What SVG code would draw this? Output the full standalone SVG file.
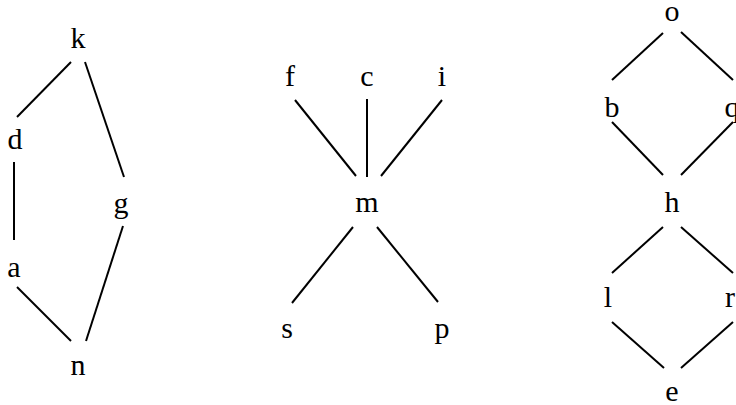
<svg xmlns="http://www.w3.org/2000/svg" width="736" height="405" viewBox="0 0 736 405">
<style>
text{font-family:"Liberation Serif","Times New Roman",serif;font-size:30px;fill:#000;text-anchor:middle}
#edges line{stroke:#000;stroke-width:2;fill:none}
</style>
<rect width="736" height="405" fill="#fff"/>
<g id="edges">
<line x1="71" y1="62" x2="17" y2="117"/>
<line x1="85" y1="62" x2="124" y2="177"/>
<line x1="14" y1="162" x2="14" y2="240"/>
<line x1="17" y1="287" x2="71" y2="341"/>
<line x1="123" y1="226" x2="86" y2="341"/>
<line x1="295" y1="100" x2="356" y2="176"/>
<line x1="367" y1="99" x2="367" y2="177"/>
<line x1="442" y1="100" x2="381" y2="176"/>
<line x1="353" y1="227" x2="292" y2="303"/>
<line x1="377" y1="227" x2="438" y2="302"/>
<line x1="663" y1="33" x2="612" y2="80"/>
<line x1="681" y1="32" x2="733" y2="80"/>
<line x1="612" y1="122" x2="663" y2="175"/>
<line x1="733" y1="122" x2="681" y2="175"/>
<line x1="663" y1="227" x2="612" y2="273"/>
<line x1="681" y1="227" x2="733" y2="273"/>
<line x1="612" y1="322" x2="664" y2="368"/>
<line x1="733" y1="322" x2="681" y2="368"/>
</g>
<g id="k"><text x="78" y="48">k</text></g>
<g id="d"><text x="15" y="149">d</text></g>
<g id="g"><text x="121" y="213">g</text></g>
<g id="a"><text x="14" y="277">a</text></g>
<g id="n"><text x="78" y="375">n</text></g>
<g id="f"><text x="290" y="86">f</text></g>
<g id="c"><text x="367" y="86">c</text></g>
<g id="i"><text x="442" y="86">i</text></g>
<g id="m"><text x="367" y="212">m</text></g>
<g id="s"><text x="287" y="338">s</text></g>
<g id="p"><text x="442" y="338">p</text></g>
<g id="o"><text x="672" y="21">o</text></g>
<g id="b"><text x="612" y="117">b</text></g>
<g id="q"><text x="732" y="117">q</text></g>
<g id="h"><text x="672" y="212">h</text></g>
<g id="l"><text x="608" y="307">l</text></g>
<g id="r"><text x="730" y="307">r</text></g>
<g id="e"><text x="672" y="401">e</text></g>
</svg>
